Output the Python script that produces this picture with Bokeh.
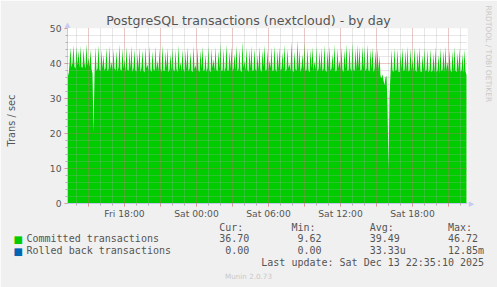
from math import pi
from bokeh.plotting import figure
from bokeh.models import Range1d, FixedTicker, Label
from bokeh.embed import file_html
from bokeh.resources import INLINE

# ---------------- data ----------------
TITLE = "PostgreSQL transactions (nextcloud) - by day"
Y_LABEL = "Trans / sec"
START_HOUR = 13.25          # Fri 13:15 (hours since Fri 00:00)
END_HOUR = 46 + 35 / 60     # Sat 22:35
STEP_HOURS = 5 / 60         # 5-minute samples

committed = [
    38.2,
    36.5, 39.8, 44.6, 38.9, 40.2, 45.3, 39.1, 38.6, 44.9, 39.4, 43.8, 38.7,
    45.1, 39.0, 38.8, 44.2, 40.1, 38.5, 45.6, 39.3, 41.7, 38.9, 44.0, 38.4,
    37.2, 20.4, 36.8, 44.8, 37.9, 38.6, 45.2, 38.3, 37.8, 43.9, 38.5, 42.6,
    38.0, 38.7, 44.5, 37.8, 38.4, 45.0, 38.2, 40.6, 37.9, 44.1, 38.6, 38.1,
    43.7, 37.7, 38.9, 45.4, 38.3, 37.9, 44.3, 38.5, 41.2, 37.6, 44.8, 38.2,
    37.9, 43.6, 38.4, 45.1, 37.6, 38.8, 44.0, 38.1, 37.7, 42.9, 38.3, 44.6,
    37.5, 38.9, 43.8, 38.0, 37.4, 44.7, 38.6, 39.8, 37.8, 45.0, 38.2, 37.6,
    43.5, 38.4, 37.9, 44.9, 38.1, 41.0, 37.7, 44.2, 38.5, 37.6, 45.2, 38.0,
    37.8, 43.4, 38.6, 44.5, 37.5, 38.3, 42.8, 37.9, 44.6, 38.2, 37.7, 43.9,
    38.4, 37.6, 45.3, 38.1, 40.4, 37.8, 44.0, 38.5, 37.4, 43.7, 38.2, 44.8,
    37.7, 38.6, 43.3, 38.0, 37.5, 45.1, 38.3, 39.6, 37.9, 44.4, 38.1, 37.6,
    43.8, 38.4, 44.9, 37.8, 38.2, 42.7, 37.6, 38.7, 45.0, 38.0, 37.5, 44.3,
    38.6, 41.3, 37.9, 44.7, 38.2, 37.7, 43.6, 38.5, 46.0, 37.8, 38.1, 44.2,
    37.6, 38.8, 45.4, 38.0, 37.9, 43.5, 38.3, 44.8, 37.7, 38.6, 42.9, 38.1,
    45.2, 37.8, 38.4, 44.1, 38.0, 37.5, 46.2, 38.7, 40.8, 37.9, 44.5, 38.2,
    37.6, 43.9, 38.5, 45.0, 37.8, 38.1, 44.3, 38.4, 37.7, 42.6, 38.0, 44.9,
    38.3, 37.6, 43.7, 38.9, 45.3, 37.9, 38.2, 44.0, 37.5, 41.1, 38.6, 44.6,
    37.8, 38.0, 45.1, 38.4, 37.6, 43.8, 38.2, 44.7, 37.9, 38.5, 43.2, 38.1,
    45.5, 37.7, 38.3, 44.2, 38.6, 39.9, 37.8, 46.3, 38.0, 37.6, 43.6, 38.4,
    37.9, 46.72, 38.2, 44.1, 37.6, 38.7, 42.8, 38.0, 46.0, 37.8, 38.3, 44.4,
    38.1, 37.5, 43.9, 38.6, 44.8, 37.9, 40.7, 38.2, 45.0, 37.7, 38.4, 43.5,
    38.0, 44.6, 37.8, 38.5, 45.2, 38.1, 37.6, 43.8, 38.3, 44.9, 37.9, 38.6,
    42.7, 38.2, 45.4, 37.7, 38.0, 44.3, 38.5, 41.0, 37.8, 44.7, 38.2, 37.6,
    43.9, 38.4, 45.6, 37.9, 38.1, 44.5, 38.6, 37.7, 46.1, 38.3, 37.8, 44.2,
    38.0, 45.4, 38.5, 44.8, 37.9, 38.2, 45.0, 38.4, 44.9, 37.8, 38.6, 45.5,
    38.1, 37.7, 44.0, 38.3, 44.6, 37.6, 38.4, 43.6, 38.0, 44.3, 37.9, 42.3,
    36.4, 35.8, 36.9, 35.2, 33.8, 36.1, 36.5, 28.4, 9.62, 30.5, 37.2, 43.9,
    38.0, 37.6, 44.5, 37.9, 38.2, 44.0, 37.7, 37.5, 43.2, 38.3, 44.6, 37.8,
    38.2, 43.8, 37.6, 44.9, 37.7, 38.0, 44.3, 37.9, 41.4, 37.6, 44.7, 38.1,
    37.6, 43.5, 38.3, 44.8, 37.8, 37.5, 42.4, 38.0, 44.6, 37.7, 38.2, 43.9,
    37.4, 38.1, 44.2, 37.6, 37.9, 43.0, 37.3, 44.8, 37.5, 38.0, 42.6, 37.2,
    44.5, 37.8, 38.3, 43.7, 37.5, 44.9, 37.9, 40.6, 37.6, 44.1, 38.2, 37.4,
    43.6, 37.7, 44.8, 38.0, 37.5, 43.2, 37.9, 44.4, 37.6, 38.1, 42.8, 37.3,
    44.0, 37.8, 36.70,
]
hours = [START_HOUR + i * STEP_HOURS for i in range(len(committed))]

x_grid_major = [15, 18, 21, 24, 27, 30, 33, 36, 39, 42, 45]
x_grid_minor = [14, 15, 16, 17, 18, 19, 20, 21, 22, 23, 24, 25, 26, 27, 28, 29, 30,
                31, 32, 33, 34, 35, 36, 37, 38, 39, 40, 41, 42, 43, 44, 45, 46]
x_label_hours = [18, 24, 30, 36, 42]
x_labels = ["Fri 18:00", "Sat 00:00", "Sat 06:00", "Sat 12:00", "Sat 18:00"]
y_major = [0, 10, 20, 30, 40, 50]
y_minor = [0, 2, 4, 6, 8, 10, 12, 14, 16, 18, 20, 22, 24, 26, 28, 30, 32, 34, 36,
           38, 40, 42, 44, 46, 48, 50]

legend_names = ["Committed transactions", "Rolled back transactions"]
legend_colors = ["#00CC00", "#0066B3"]
stat_headers = ["Cur:", "Min:", "Avg:", "Max:"]
stat_cur = ["36.70", "0.00"]
stat_min = ["9.62", "0.00"]
stat_avg = ["39.49", "33.33u"]
stat_max = ["46.72", "12.85m"]
last_update = "Last update: Sat Dec 13 22:35:10 2025"
version = "Munin 2.0.73"
side_text = "RRDTOOL / TOBI OETIKER"

# ---------------- layout ----------------
W, H = 497, 287
FL, FT, FR, FB = 67, 28, 467, 203
TXT = "#555555"
AX = "#C8C8F4"
NB = "\u00A0"

p = figure(width=W, height=H, title=None, output_backend="svg", toolbar_location=None,
           x_range=Range1d(START_HOUR, END_HOUR), y_range=Range1d(0, 50),
           min_border_left=FL, min_border_right=W - FR,
           min_border_top=FT, min_border_bottom=H - FB)
p.border_fill_color = "#F0F0F0"
p.background_fill_color = "white"
p.outline_line_color = None

p.varea(x=hours, y1=0, y2=committed, fill_color=legend_colors[0], fill_alpha=1.0)

xt = FixedTicker(ticks=x_grid_major, minor_ticks=x_grid_minor)
yt = FixedTicker(ticks=y_major, minor_ticks=y_minor)

for g, t in ((p.xgrid, xt), (p.ygrid, yt)):
    g.ticker = t
    g.level = "overlay"
    g.grid_line_color = "#FF0000"
    g.grid_line_alpha = 0.27
    g.grid_line_dash = "1 1"
    g.minor_grid_line_color = "#A8A8A8"
    g.minor_grid_line_alpha = 0.55
    g.minor_grid_line_dash = "1 1"

overrides = {h: "" for h in x_grid_major}
for h, s in zip(x_label_hours, x_labels):
    overrides[h] = s

xa = p.xaxis[0]
xa.ticker = xt
xa.major_label_overrides = overrides
ya = p.yaxis[0]
ya.ticker = yt
for a in (xa, ya):
    a.axis_line_color = AX
    a.major_tick_line_color = "#FF8080"
    a.minor_tick_line_color = "#B0B0B0"
    a.major_tick_out = 3
    a.major_tick_in = 0
    a.minor_tick_out = 2
    a.minor_tick_in = 0
    a.major_label_text_font = "DejaVu Sans"
    a.major_label_text_font_size = "9.2px"
    a.major_label_text_color = TXT
xa.major_label_standoff = 1
ya.major_label_standoff = 3


def lab(side, text, x, y, size, color=TXT, font="DejaVu Sans", align="left",
        baseline="middle", angle=0.0, line_height=1.2):
    p.add_layout(Label(text=text, x=x, y=y, x_units="canvas", y_units="canvas",
                       text_font=font, text_font_size=size, text_color=color,
                       text_align=align, text_baseline=baseline, angle=angle,
                       text_line_height=line_height), side)


# axis arrow heads
lab("left", "\u25B2", 67, 24, "7px", color=AX, align="center")
lab("right", "\u25B6", 471, 203, "7px", color=AX, align="center")

# texts placed in side panels (canvas coordinates)
lab("above", TITLE, 248, 19.5, "12.6px", align="center")
lab("right", side_text, 487.5, 5, "7.5px", color="#C8C8C8", angle=-pi / 2)
lab("left", Y_LABEL, 10.5, 120, "9.8px", align="center", angle=pi / 2)
row_y = [239, 251]
for i in range(2):
    lab("left", "\u25A0", 13, row_y[i], "10px", color=legend_colors[i])


def place(s, col, text):
    return s + NB * (col - len(s)) + text


header = place(place(place(place("", 32, stat_headers[0]), 44, stat_headers[1]),
                     57, stat_headers[2]), 70, stat_headers[3])
rows = [header]
for i in range(2):
    s = place(legend_names[i], 37 - len(stat_cur[i]), stat_cur[i])
    s = place(s, 49 - len(stat_min[i]), stat_min[i])
    s = place(s, 57, stat_avg[i])
    s = place(s, 70, stat_max[i])
    rows.append(s)
rows.append(place("", 39, last_update))
legend_text = "\n".join(rows)
lab("below", legend_text, 26, 221, "10px", font="DejaVu Sans Mono", baseline="top",
    line_height=1.09)
lab("below", version, 248, 276, "7.2px", color="#C8C8C8", align="center")

open("out.html", "w").write(file_html(p, INLINE))
